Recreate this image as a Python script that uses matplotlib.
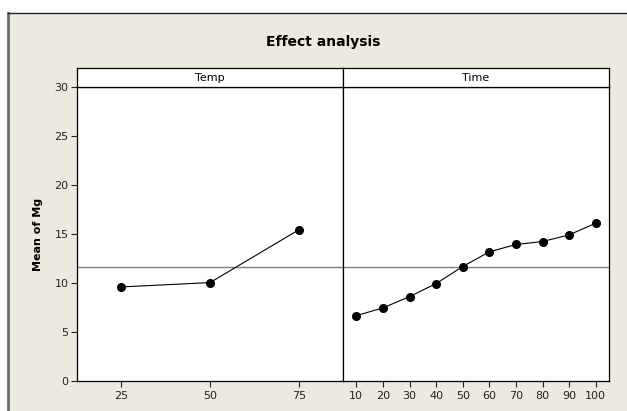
import matplotlib
matplotlib.use("Agg")
import matplotlib.pyplot as plt
from matplotlib.patches import Rectangle

# data
temp_levels = ["25", "50", "75"]
temp_means = [9.6, 10.04, 15.42]
time_levels = ["10", "20", "30", "40", "50", "60", "70", "80", "90", "100"]
time_means = [6.67, 7.46, 8.61, 9.94, 11.68, 13.18, 13.93, 14.23, 14.91, 16.10]
grand_mean = 11.66
y_ticks = [0, 5, 10, 15, 20, 25, 30]

plt.rcParams['font.family'] = ['DejaVu Sans']

W, H = 627, 411
fig = plt.figure(figsize=(W / 100, H / 100), dpi=100, facecolor="white")

# beige background panel with frame
bg = Rectangle((8 / W, 0), 1 - 8 / W, 1 - 13 / H, transform=fig.transFigure,
               facecolor="#EDE9DF", edgecolor="none", zorder=-10)
fig.patches.append(bg)
fig.add_artist(plt.Line2D([8 / W, 8 / W], [0, 1 - 13 / H], transform=fig.transFigure,
                          color="#6b6b6b", lw=2, zorder=-5))
fig.add_artist(plt.Line2D([8 / W, 1], [1 - 13 / H, 1 - 13 / H], transform=fig.transFigure,
                          color="#222222", lw=1, zorder=-5))

left, right = 77 / W, 609 / W
bottom, top = 1 - 381 / H, 1 - 87 / H
strip_top = 1 - 68 / H
pw = (right - left) / 2

panels = [("Temp", temp_levels, temp_means), ("Time", time_levels, time_means)]
for i, (name, levels, means) in enumerate(panels):
    ax = fig.add_axes([left + i * pw, bottom, pw, top - bottom])
    ax.set_facecolor("white")
    x = list(range(len(levels)))
    ax.axhline(grand_mean, color="#808080", lw=1, zorder=1)
    ax.plot(x, means, color="black", lw=0.8, marker="o", markersize=5.5, zorder=3)
    ax.set_xlim(-0.5, len(levels) - 0.5)
    ax.set_ylim(0, 30)
    ax.set_xticks(x)
    ax.set_xticklabels(levels)
    ax.tick_params(axis="x", length=4, width=0.8, labelsize=8, pad=3, colors="#222222")
    for s in ax.spines.values():
        s.set_linewidth(0.9)
        s.set_color("black")
    if i == 0:
        ax.set_yticks(y_ticks)
        ax.tick_params(axis="y", length=4, width=0.8, labelsize=8, pad=2, colors="#222222")
        ax.set_ylabel("Mean of Mg", fontsize=8, fontweight="bold", labelpad=8)
    else:
        ax.set_yticks([])
    # strip header
    sax = fig.add_axes([left + i * pw, top, pw, strip_top - top])
    sax.set_xticks([])
    sax.set_yticks([])
    sax.set_facecolor("white")
    for s in sax.spines.values():
        s.set_linewidth(0.9)
        s.set_color("black")
    sax.text(0.5, 0.45, name, ha="center", va="center", fontsize=8,
             transform=sax.transAxes)

fig.text(323 / W, 1 - 42 / H, "Effect analysis", ha="center", va="center",
         fontsize=10, fontweight="bold")

fig.savefig("out.png", dpi=100, facecolor="white")
